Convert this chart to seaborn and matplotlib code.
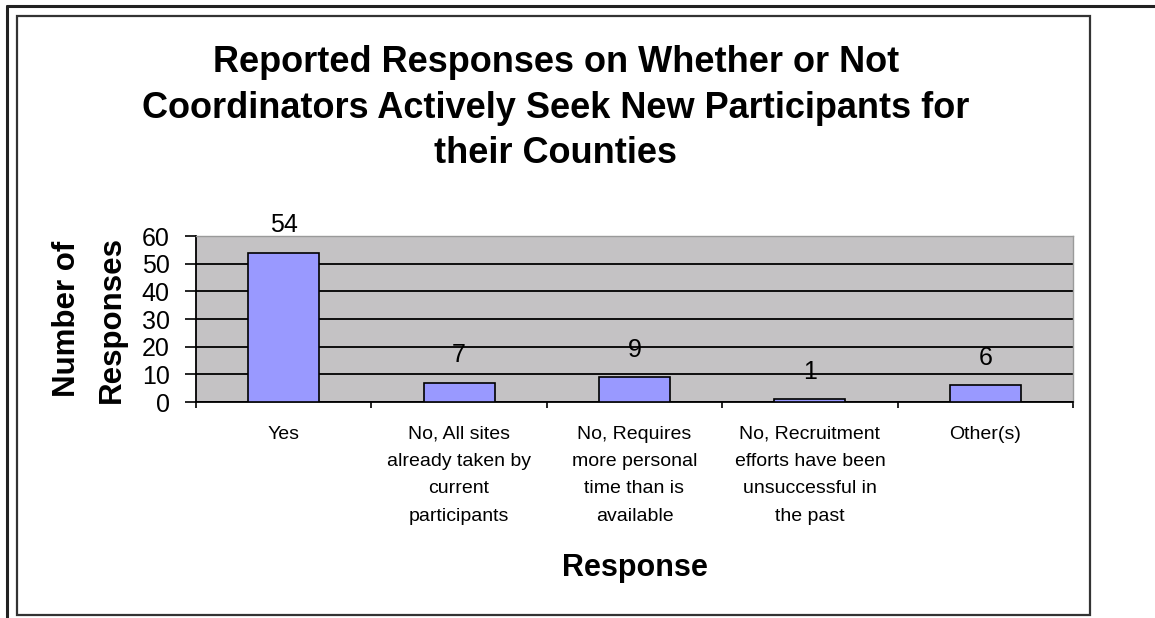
import matplotlib
matplotlib.use("Agg")
import matplotlib.pyplot as plt
import seaborn as sns
import pandas as pd
from matplotlib.lines import Line2D
from matplotlib.patches import Rectangle

categories = [
    "Yes",
    "No, All sites\nalready taken by\ncurrent\nparticipants",
    "No, Requires\nmore personal\ntime than is\navailable",
    "No, Recruitment\nefforts have been\nunsuccessful in\nthe past",
    "Other(s)",
]
counts = [54, 7, 9, 1, 6]
y_ticks = [0, 10, 20, 30, 40, 50, 60]

title = "Reported Responses on Whether or Not\nCoordinators Actively Seek New Participants for\ntheir Counties"

sns.set_style("white")
plt.rcParams["font.family"] = ["Liberation Sans", "DejaVu Sans"]
plt.rcParams["text.color"] = "black"
plt.rcParams["axes.labelcolor"] = "black"
plt.rcParams["xtick.color"] = "black"
plt.rcParams["ytick.color"] = "black"

W, H = 1155, 618
fig = plt.figure(figsize=(W / 100, H / 100), dpi=100)
fig.patch.set_facecolor("white")

# frames
fig.add_artist(Line2D([7 / W, 1.0], [1 - 6 / H, 1 - 6 / H], color="#222222", lw=2.2, transform=fig.transFigure))
fig.add_artist(Line2D([7 / W, 7 / W], [1 - 6 / H, 0], color="#222222", lw=2.2, transform=fig.transFigure))
fig.add_artist(Rectangle((17 / W, 1 - 615 / H), (1090 - 17) / W, (615 - 16) / H,
                         fill=False, edgecolor="#333333", lw=1.6, transform=fig.transFigure))

x0, x1, y0, y1 = 196, 1073, 236, 402
ax = fig.add_axes([x0 / W, 1 - y1 / H, (x1 - x0) / W, (y1 - y0) / H])
ax.set_facecolor("#C4C2C4")

df = pd.DataFrame({"Response": categories, "Count": counts})
sns.barplot(data=df, x="Response", y="Count", ax=ax, color="#9999FF",
            saturation=1, edgecolor="black", linewidth=1.2, width=0.405, zorder=3)

ax.set_ylim(0, 60)
ax.set_xlim(-0.5, len(categories) - 0.5)
ax.set_yticks(y_ticks)
ax.set_yticklabels([str(v) for v in y_ticks], fontsize=18)
ax.yaxis.grid(True, color="black", lw=1.3, zorder=1)
ax.set_axisbelow(True)

ax.tick_params(axis="y", which="major", direction="out", length=8, width=1.2,
               color="black", pad=11, left=True)
ax.tick_params(axis="x", which="major", length=0, pad=17, labelsize=14)
ax.set_xticks(range(len(categories)))
ax.set_xticklabels(categories, linespacing=1.8, va="top")
ax.set_xticks([i - 0.5 for i in range(len(categories) + 1)], minor=True)
ax.tick_params(axis="x", which="minor", direction="out", length=4, width=1.2, color="black", bottom=True)

for s in ["left", "bottom"]:
    ax.spines[s].set_color("black")
    ax.spines[s].set_linewidth(1.3)
for s in ["top", "right"]:
    ax.spines[s].set_color("#9a9a9a")
    ax.spines[s].set_linewidth(1.0)

for i, v in enumerate(counts):
    ax.annotate(str(v), (i, v), xytext=(0, 11), textcoords="offset points",
                ha="center", va="bottom", fontsize=18)

ax.set_xlabel("Response", fontsize=22, fontweight="bold")
ax.xaxis.set_label_coords(0.5, -0.91)
ax.set_ylabel("Number of\nResponses", fontsize=22.5, fontweight="bold", linespacing=1.65)
ax.yaxis.set_label_coords(-0.079, 0.5)

fig.text(556 / W, 1 - 108 / H, title, ha="center", va="center",
         fontsize=26, fontweight="bold", linespacing=1.4)

fig.savefig("out.png", dpi=100)
